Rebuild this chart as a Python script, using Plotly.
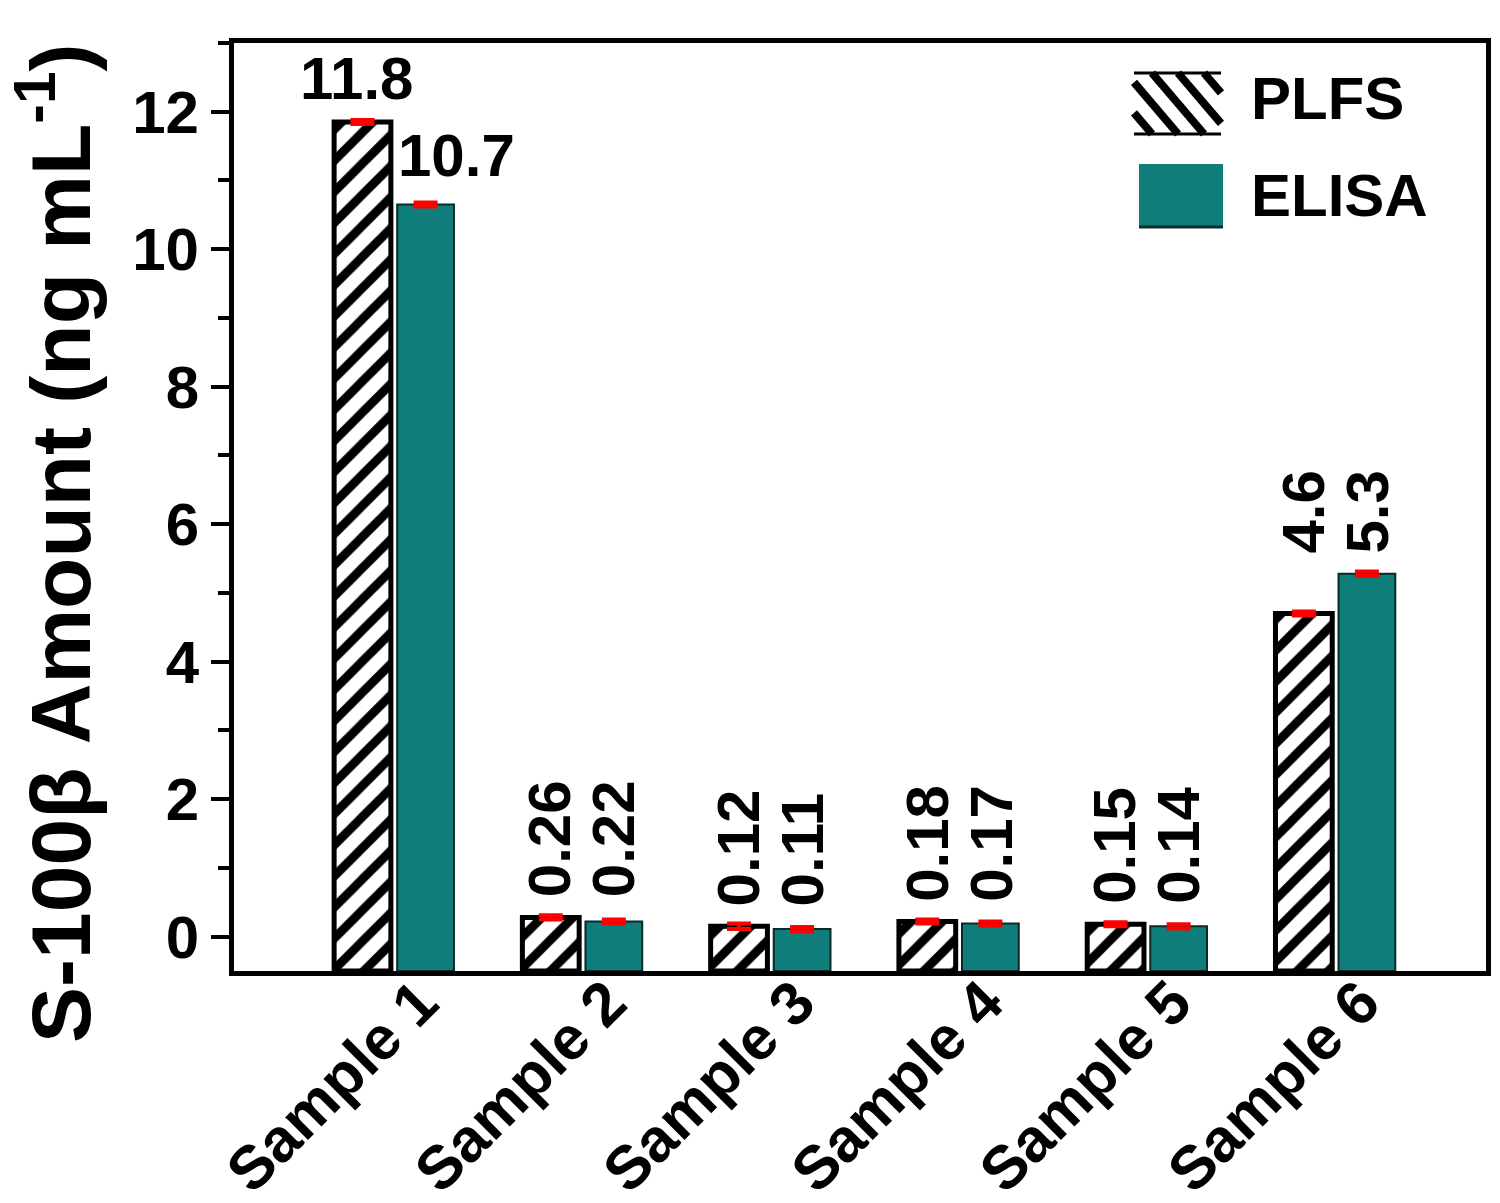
import plotly.graph_objects as go

samples = ["Sample 1", "Sample 2", "Sample 3", "Sample 4", "Sample 5", "Sample 6"]
plfs = [11.85, 0.28, 0.15, 0.22, 0.18, 4.70]
elisa = [10.65, 0.22, 0.11, 0.19, 0.15, 5.28]
plfs_err = [0.03, 0.03, 0.04, 0.03, 0.03, 0.03]
elisa_err = [0.03, 0.03, 0.03, 0.03, 0.03, 0.03]
plfs_labels = ["11.8", "0.26", "0.12", "0.18", "0.15", "4.6"]
elisa_labels = ["10.7", "0.22", "0.11", "0.17", "0.14", "5.3"]
y_ticks = [0, 2, 4, 6, 8, 10, 12]
series_names = ["PLFS", "ELISA"]

FONT = "Liberation Sans, Arial, sans-serif"
TEAL = "#0F7D7A"
BASE = -0.5

# target plot-area frame in picture pixels (for layout-only decorations in paper coords)
X0, X1, Y0, Y1 = 233, 1485, 42, 970
def px(x):
    return (x - X0) / (X1 - X0)
def py(y):
    return (Y1 - y) / (Y1 - Y0)

fig = go.Figure()
fig.add_trace(go.Bar(
    name=series_names[0], x=samples, y=[v - BASE for v in plfs], base=BASE,
    marker=dict(color="white", line=dict(color="black", width=5),
                pattern=dict(shape="/", fgcolor="black", bgcolor="white", fgopacity=1,
                             size=22, solidity=0.4)),
    error_y=dict(type="data", array=plfs_err, color="red", thickness=4, width=12),
    showlegend=False,
))
fig.add_trace(go.Bar(
    name=series_names[1], x=samples, y=[v - BASE for v in elisa], base=BASE,
    marker=dict(color=TEAL, line=dict(color="#0a2a2a", width=2)),
    error_y=dict(type="data", array=elisa_err, color="red", thickness=4, width=12),
    showlegend=False,
))

lab_font = dict(family=FONT, size=60, color="black", weight="bold")
annotations = []
for i, s in enumerate(samples):
    if i == 0:
        annotations.append(dict(x=s, y=plfs[i], xref="x", yref="y", text=plfs_labels[i],
                                showarrow=False, xshift=-38, yshift=8, yanchor="bottom",
                                font=lab_font))
        annotations.append(dict(x=s, y=elisa[i], xref="x", yref="y", text=elisa_labels[i],
                                showarrow=False, xshift=2, xanchor="left", yshift=14,
                                yanchor="bottom", font=lab_font))
    else:
        ytop = max(plfs[i], elisa[i])
        for labels, shift in ((plfs_labels, -32), (elisa_labels, 32)):
            annotations.append(dict(x=s, y=ytop, xref="x", yref="y", text=labels[i],
                                    showarrow=False, textangle=-90, xshift=shift, yshift=18,
                                    yanchor="bottom", font=lab_font))

# y-axis title as a rotated annotation
annotations.append(dict(x=px(54), y=py(542), xref="paper", yref="paper",
                        text="S-100β Amount (ng mL<sup>-1</sup>)", textangle=-90,
                        showarrow=False, xanchor="center", yanchor="middle",
                        font=dict(family=FONT, size=84, color="black", weight="bold")))

# legend texts
annotations.append(dict(x=px(1248), y=py(97), xref="paper", yref="paper", text=series_names[0],
                        showarrow=False, xanchor="left", yanchor="middle", font=lab_font))
annotations.append(dict(x=px(1248), y=py(195), xref="paper", yref="paper", text=series_names[1],
                        showarrow=False, xanchor="left", yanchor="middle", font=lab_font))

# legend keys (layout decorations)
shapes = []
kx0, kx1, ky0, ky1 = 1133, 1220, 72, 133
k = 52 / 61
c = kx0 - 60
while c < kx1:
    ya, yb = ky0, ky1
    xa, xb = c, c + (yb - ky0) * k
    if xa < kx0:
        ya = ky0 + (kx0 - c) / k
        xa = kx0
    if xb > kx1:
        yb = ky0 + (kx1 - c) / k
        xb = kx1
    if ya < yb:
        shapes.append(dict(type="line", xref="paper", yref="paper",
                           x0=px(xa), y0=py(ya), x1=px(xb), y1=py(yb),
                           line=dict(color="black", width=8)))
    c += 26
shapes.append(dict(type="line", xref="paper", yref="paper", x0=px(kx0), x1=px(kx1),
                   y0=py(ky0), y1=py(ky0), line=dict(color="black", width=3)))
shapes.append(dict(type="line", xref="paper", yref="paper", x0=px(kx0), x1=px(kx1),
                   y0=py(ky1), y1=py(ky1), line=dict(color="black", width=3)))
shapes.append(dict(type="rect", xref="paper", yref="paper", x0=px(1138), x1=px(1222),
                   y0=py(227), y1=py(163), fillcolor=TEAL, line=dict(width=0)))
shapes.append(dict(type="line", xref="paper", yref="paper", x0=px(1138), x1=px(1222),
                   y0=py(226), y1=py(226), line=dict(color="#0a3030", width=3)))

# page renders with ~7px offset; margins compensate so the plot area lands on the frame
fig.update_layout(
    width=1500, height=1203,
    margin=dict(l=226, r=22, t=35, b=240),
    paper_bgcolor="white", plot_bgcolor="white",
    barmode="group", bargap=0.33, bargroupgap=0.1,
    showlegend=False,
    annotations=annotations, shapes=shapes,
    font=dict(family=FONT, color="black"),
)
fig.update_xaxes(
    range=[-0.85, 5.8], showline=True, linecolor="black", linewidth=5, mirror=True,
    ticks="", tickangle=-45, automargin=False, ticklabelshift=26, ticklabelstandoff=-34,
    tickfont=dict(family=FONT, size=61, color="black", weight="bold"),
    showgrid=False, zeroline=False,
)
fig.update_yaxes(
    range=[-0.5, 13], showline=True, linecolor="black", linewidth=5, mirror=True,
    tickvals=y_ticks, ticks="outside", ticklen=18, tickwidth=4, tickcolor="black",
    minor=dict(dtick=1, ticks="outside", ticklen=11, tickwidth=4, tickcolor="black"),
    tickfont=dict(family=FONT, size=60, color="black", weight="bold"), automargin=False,
    showgrid=False, zeroline=False,
)

fig.write_html("out.html")
